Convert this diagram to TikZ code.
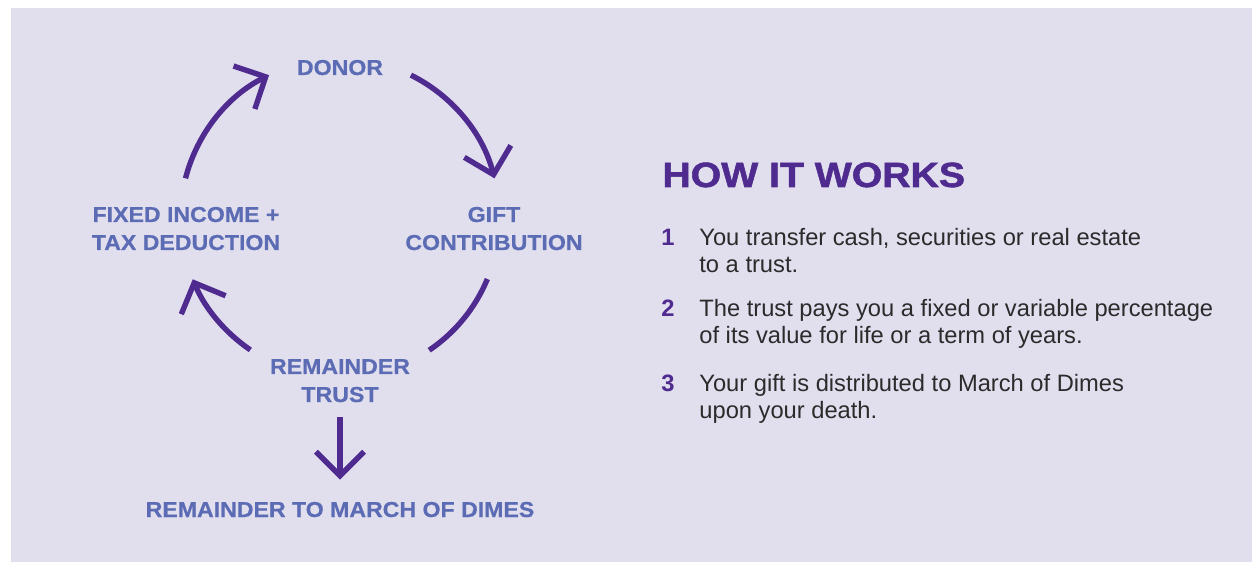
\documentclass[tikz,border=0pt]{standalone}
\usepackage{fontspec}
\setmainfont{Liberation Sans}
\newfontfamily\labelfont[FakeStretch=1.07,FakeBold=0.6]{Liberation Sans Bold}
\newfontfamily\headfont[FakeStretch=1.12,FakeBold=1.5]{Liberation Sans Bold}
\usetikzlibrary{arrows.meta}

\definecolor{lavender}{HTML}{E1DEEE}
\definecolor{plum}{HTML}{4F2A8F}
\definecolor{slate}{HTML}{5B6CB4}
\definecolor{ink}{HTML}{2B2B2B}

\begin{document}
\begin{tikzpicture}[x=50pt, y=50pt,
  cyclelabel/.style = {inner sep=0pt, align=center, anchor=base, text=slate,
    font={\labelfont\fontsize{10.8}{14}\selectfont}},
  cyclearrow/.style = {plum, line width=2.7pt,
    -{Straight Barb[length=12pt, width=24pt]}},
  cyclearc/.style = {plum, line width=2.7pt},
  itemnum/.style = {inner sep=0pt, anchor=base west, text=plum,
    font={\bfseries\fontsize{11.85}{13.25}\selectfont}},
  itemtext/.style = {inner sep=0pt, anchor=base west, align=left, text=ink,
    font={\fontsize{11.85}{13.4}\selectfont}}]
\useasboundingbox (0,0) rectangle (12.52,5.62);
\fill [lavender] (0.11,0) rectangle (12.52,5.54);

% the cycle (base = last line)
\node [cyclelabel] (donor) at (3.40,4.87) {DONOR};
\node [cyclelabel] (gift) at (4.94,3.12) {GIFT\\CONTRIBUTION};
\node [cyclelabel] (trust) at (3.40,1.60) {REMAINDER\\TRUST};
\node [cyclelabel] (income) at (1.86,3.12) {FIXED INCOME +\\TAX DEDUCTION};
\node [cyclelabel] (dimes) at (3.40,0.45) {REMAINDER TO MARCH OF DIMES};

\coordinate (hub) at (3.40,3.44);
\coordinate (a1) at ([shift={(165.6:1.595)}]hub);
\coordinate (a2) at ([shift={(63.6:1.595)}]hub);
\coordinate (a3) at ([shift={(-22.5:1.595)}]hub);
\coordinate (a4) at ([shift={(235.8:1.595)}]hub);
\draw [cyclearrow] (a1) arc [start angle=165.6, end angle=116.4, radius=1.595];
\draw [cyclearrow] (a2) arc [start angle=63.6, end angle=14.4, radius=1.595];
\draw [cyclearc] (a3) arc [start angle=-22.5, end angle=-56, radius=1.595];
\draw [cyclearrow] (a4) arc [start angle=235.8, end angle=202.6, radius=1.595];
\draw [cyclearrow, shorten <=7pt, shorten >=11pt] (trust) -- (dimes);

% the steps
\node [anchor=base west, inner sep=0pt, text=plum, font={\headfont\fontsize{17.5}{20}\selectfont}] (title) at (6.62,3.75) {HOW IT WORKS};
\node [itemnum] (n1) at (6.61,3.16) {1};
\node [itemtext] (s1) at (6.99,2.895) {You transfer cash, securities or real estate\\to a trust.};
\node [itemnum] (n2) at (6.61,2.45) {2};
\node [itemtext] (s2) at (6.99,2.185) {The trust pays you a fixed or variable percentage\\of its value for life or a term of years.};
\node [itemnum] (n3) at (6.61,1.70) {3};
\node [itemtext] (s3) at (6.99,1.435) {Your gift is distributed to March of Dimes\\upon your death.};
\end{tikzpicture}
\end{document}
